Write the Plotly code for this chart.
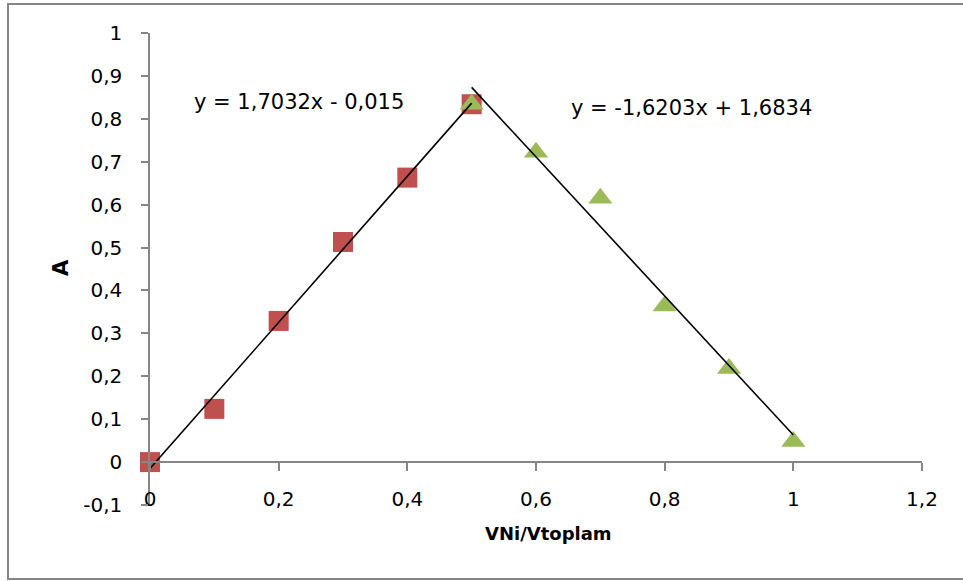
import plotly.graph_objects as go

# Data
x_red = [0, 0.1, 0.2, 0.3, 0.4, 0.5]
y_red = [0.0, 0.124, 0.329, 0.513, 0.663, 0.834]
x_green = [0.5, 0.6, 0.7, 0.8, 0.9, 1.0]
y_green = [0.834, 0.722, 0.615, 0.364, 0.218, 0.048]

# Trendline coefficients (as shown on chart)
slope1, intercept1 = 1.7032, -0.015
slope2, intercept2 = -1.6203, 1.6834

x_ticks = [0, 0.2, 0.4, 0.6, 0.8, 1.0, 1.2]
x_tick_text = ["0", "0,2", "0,4", "0,6", "0,8", "1", "1,2"]
y_ticks = [-0.1, 0, 0.1, 0.2, 0.3, 0.4, 0.5, 0.6, 0.7, 0.8, 0.9, 1.0]
y_tick_text = ["-0,1", "0", "0,1", "0,2", "0,3", "0,4", "0,5", "0,6", "0,7", "0,8", "0,9", "1"]

eq1_text = "y = 1,7032x - 0,015"
eq2_text = "y = -1,6203x + 1,6834"

FONT = "'DejaVu Sans', sans-serif"
FS = 20
AXIS_COLOR = "#868686"

fig = go.Figure()

fig.add_trace(go.Scatter(
    x=x_red, y=y_red, mode="markers",
    marker=dict(symbol="square", size=20, color="#C0504D"),
    cliponaxis=False, showlegend=False))
fig.add_trace(go.Scatter(
    x=x_green, y=y_green, mode="markers",
    marker=dict(symbol="triangle-up", size=21, color="#9BBB59"),
    cliponaxis=False, showlegend=False))

t1x = [x_red[0], x_red[-1]]
t2x = [x_green[0], x_green[-1]]
fig.add_trace(go.Scatter(
    x=t1x, y=[slope1 * v + intercept1 for v in t1x], mode="lines",
    line=dict(color="black", width=1.6), cliponaxis=False, showlegend=False))
fig.add_trace(go.Scatter(
    x=t2x, y=[slope2 * v + intercept2 for v in t2x], mode="lines",
    line=dict(color="black", width=1.6), cliponaxis=False, showlegend=False))

W, H = 963, 581
ml, mr, mt, mb = 150, 41, 33, 76
pw, ph = W - ml - mr, H - mt - mb

def px2paper(px, py):
    return (px - ml) / pw, (H - mb - py) / ph

ymin, ymax = -0.1, 1.0

fig.update_layout(
    width=W, height=H,
    margin=dict(l=ml, r=mr, t=mt, b=mb),
    paper_bgcolor="white", plot_bgcolor="white",
    font=dict(family=FONT, size=FS, color="black"),
    xaxis=dict(
        range=[0, 1.2], tickvals=x_ticks, ticktext=x_tick_text,
        showgrid=False, zeroline=False,
        showline=True, linecolor=AXIS_COLOR, linewidth=1.5,
        ticks="outside", ticklen=8, tickcolor=AXIS_COLOR, tickwidth=1.5,
        anchor="free", position=(0 - ymin) / (ymax - ymin),
        ticklabelstandoff=11,
        tickfont=dict(family=FONT, size=FS, color="black"),
    ),
    yaxis=dict(
        range=[ymin, ymax], tickvals=y_ticks, ticktext=y_tick_text,
        showgrid=False, zeroline=False,
        showline=True, linecolor=AXIS_COLOR, linewidth=1.5,
        ticks="outside", ticklen=7, tickcolor=AXIS_COLOR, tickwidth=1.5,
        ticklabelstandoff=15,
        tickfont=dict(family=FONT, size=FS, color="black"),
    ),
)

# Outer chart border
bx0, by0 = px2paper(8, 579)
bx1, by1 = px2paper(970, 4)
fig.add_shape(type="rect", xref="paper", yref="paper",
              x0=bx0, y0=by0, x1=bx1, y1=by1,
              line=dict(color=AXIS_COLOR, width=2), layer="below")

# Axis titles
ax, ay = px2paper(548, 533)
fig.add_annotation(text="<b>VNi/Vtoplam</b>", xref="paper", yref="paper",
                   x=ax, y=ay, showarrow=False, xanchor="center", yanchor="middle",
                   font=dict(family=FONT, size=18))
ax, ay = px2paper(61, 268)
fig.add_annotation(text="<b>A</b>", xref="paper", yref="paper",
                   x=ax, y=ay, showarrow=False, textangle=-90,
                   xanchor="center", yanchor="middle",
                   font=dict(family=FONT, size=21))

# Equations
ax, ay = px2paper(192, 102)
fig.add_annotation(text=eq1_text, xref="paper", yref="paper", x=ax, y=ay,
                   showarrow=False, xanchor="left", yanchor="middle",
                   font=dict(family=FONT, size=21))
ax, ay = px2paper(569, 108)
fig.add_annotation(text=eq2_text, xref="paper", yref="paper", x=ax, y=ay,
                   showarrow=False, xanchor="left", yanchor="middle",
                   font=dict(family=FONT, size=21))

fig.write_html("out.html")
